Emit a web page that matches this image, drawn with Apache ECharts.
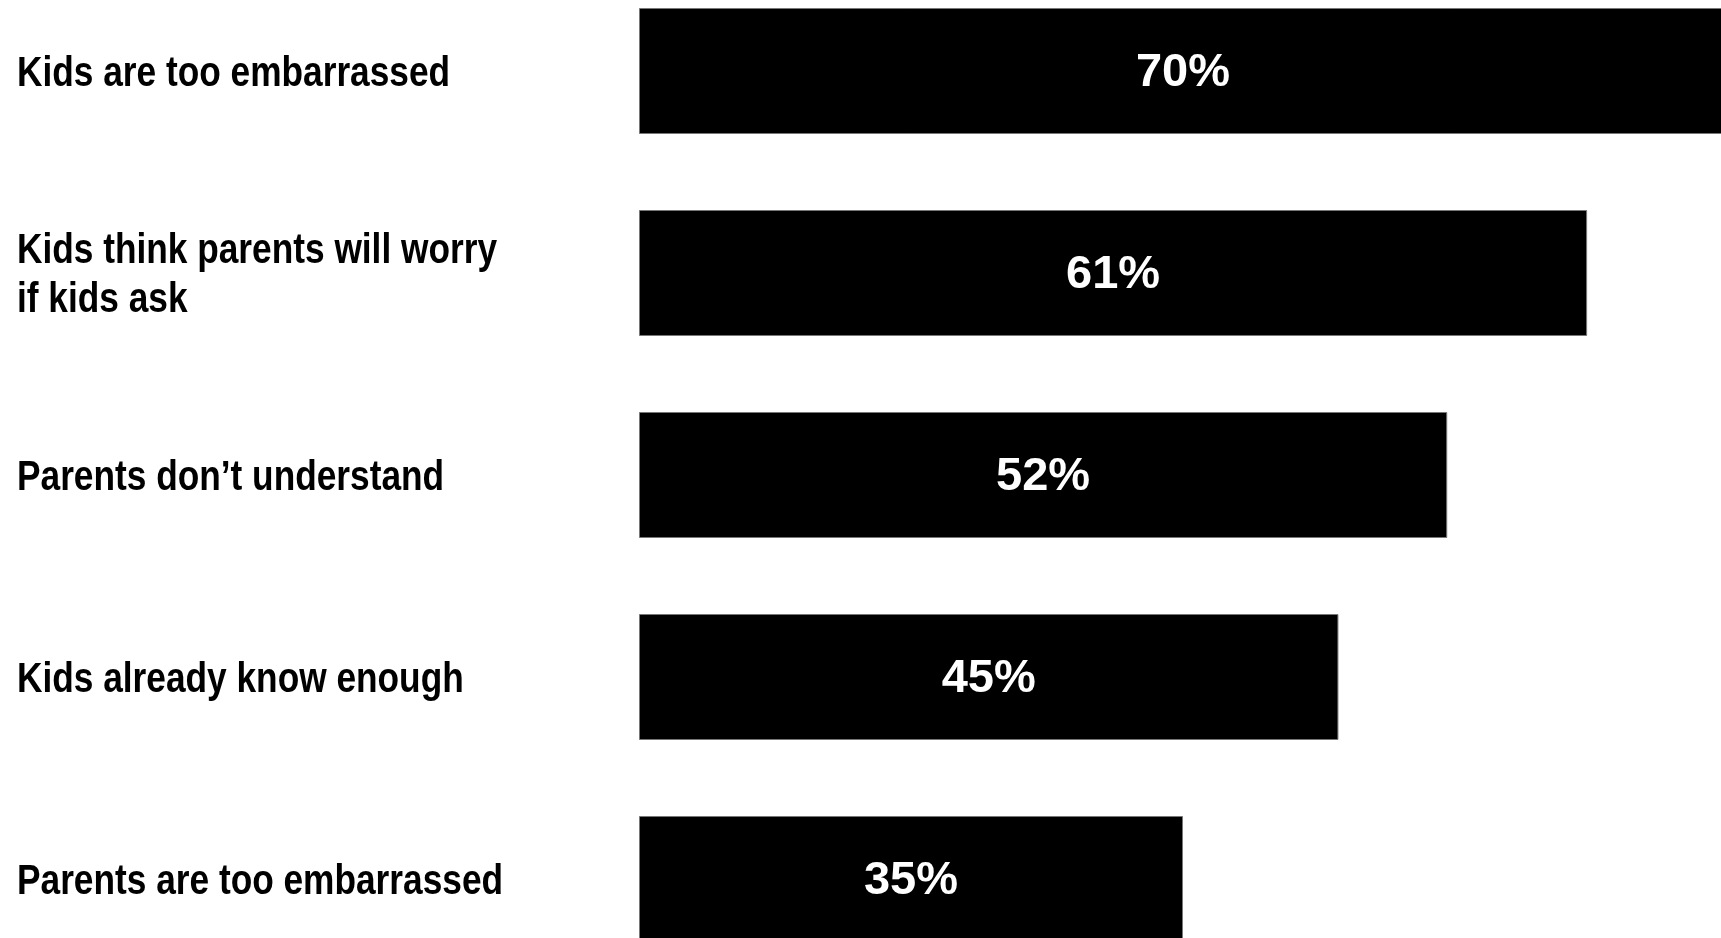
<!DOCTYPE html>
<html>
<head>
<meta charset="utf-8">
<script src="https://cdn.jsdelivr.net/npm/echarts@6/dist/echarts.min.js"></script>
<style>
html,body{margin:0;padding:0;background:#fff;width:1721px;height:938px;overflow:hidden;position:relative;}
#chart{position:absolute;left:0;top:-30px;width:1727px;height:1010px;}
</style>
</head>
<body>
<div id="chart"></div>
<script>
const categories = [
  "Kids are too embarrassed",
  "Kids think parents will worry\nif kids ask",
  "Parents don\u2019t understand",
  "Kids already know enough",
  "Parents are too embarrassed"
];
const values = [70, 61, 52, 45, 35];

const chart = echarts.init(document.getElementById('chart'));
chart.setOption({
  animation: false,
  backgroundColor: '#ffffff',
  grid: { left: 639, top: 0, right: 0, bottom: 0, containLabel: false },
  xAxis: {
    type: 'value', min: 0, max: 70,
    axisLine: { show: false }, axisTick: { show: false },
    axisLabel: { show: false }, splitLine: { show: false }
  },
  yAxis: {
    type: 'category', data: categories, inverse: true,
    axisLine: { show: false }, axisTick: { show: false },
    axisLabel: { show: false }
  },
  series: [{
    type: 'bar', data: values, barWidth: 126,
    itemStyle: { color: '#000', borderColor: '#777', borderWidth: 1 },
    label: {
      show: true, position: 'inside', formatter: '{c}%', offset: [0, 2],
      color: '#fff', fontWeight: 'bold', fontSize: 47,
      fontFamily: '"Liberation Sans", Arial, sans-serif'
    }
  }]
});

// Category labels drawn as condensed (narrow) bold text, positioned via the axis scale
const labelGraphics = categories.map(function (c, i) {
  return {
    type: 'text',
    x: 17,
    y: chart.convertToPixel({ yAxisIndex: 0 }, i) + 3,
    scaleX: 0.82,
    silent: true,
    style: {
      text: c,
      fill: '#000',
      font: 'bold 43px "Liberation Sans", Arial, sans-serif',
      lineHeight: 49,
      align: 'left',
      verticalAlign: 'middle'
    }
  };
});
chart.setOption({ graphic: labelGraphics });
</script>
</body>
</html>
